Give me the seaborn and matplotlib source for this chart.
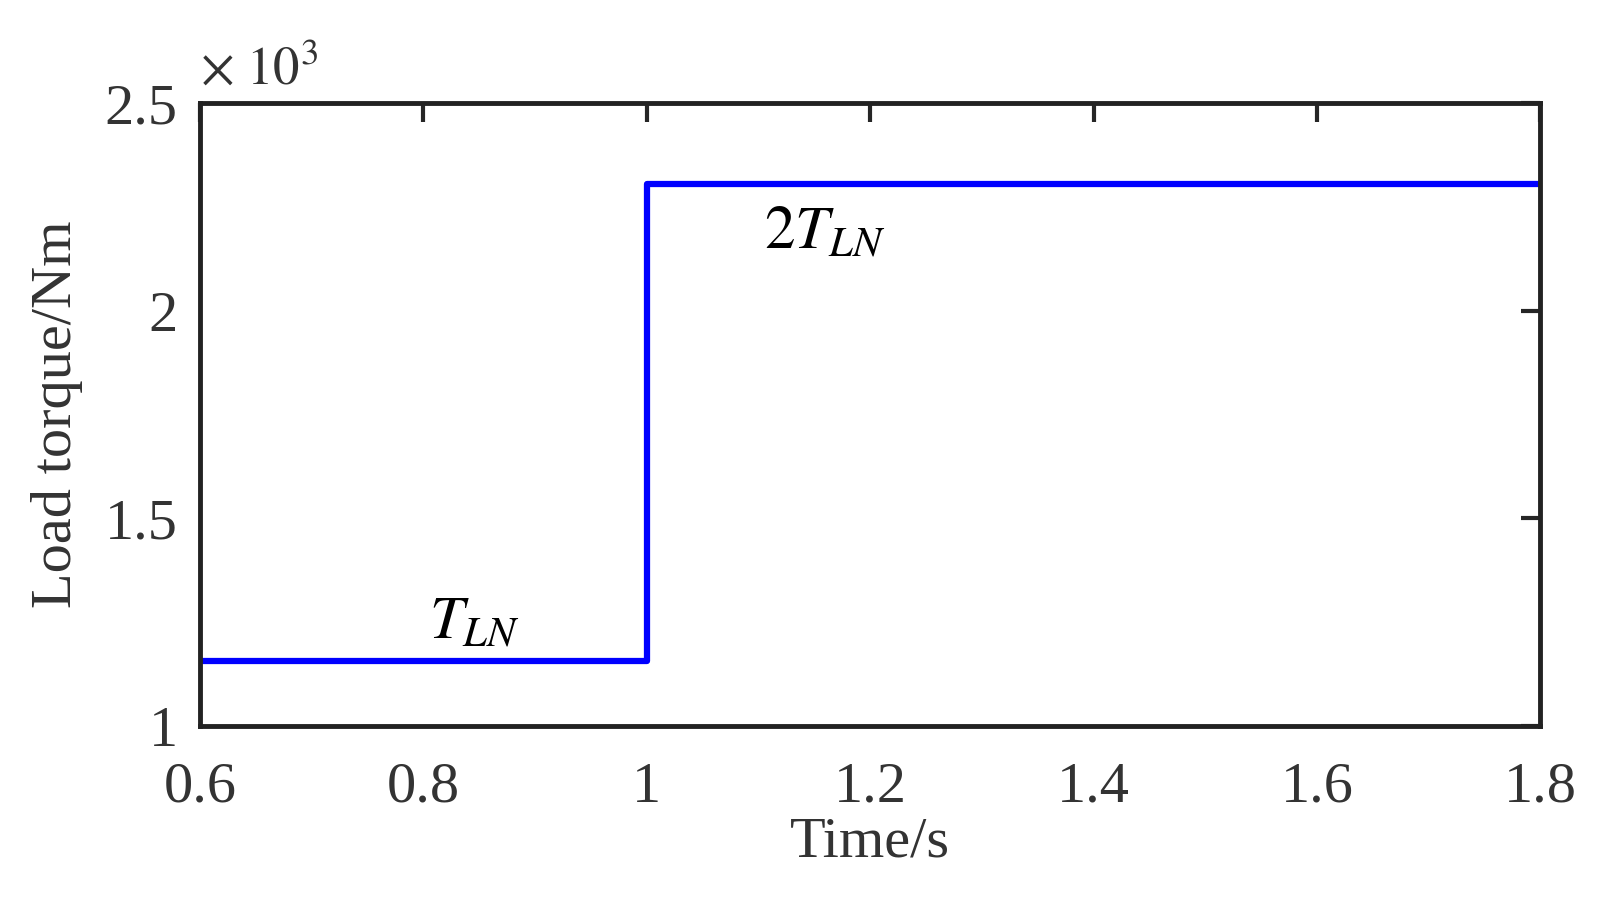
import matplotlib
matplotlib.use('Agg')
import matplotlib.pyplot as plt
import seaborn as sns
import pandas as pd

# load torque step (Nm)
time_s = [0.6, 1.0, 1.0, 1.8]
torque_nm = [1155, 1155, 2305, 2305]

sns.set_style('white')
plt.rcParams['font.family'] = ['Liberation Serif', 'DejaVu Serif']
plt.rcParams['mathtext.fontset'] = 'stix'

df = pd.DataFrame({'t': time_s, 'T': [v / 1000 for v in torque_nm]})

fig = plt.figure(figsize=(16.19, 9.06), dpi=100)
ax = fig.add_axes([0.1235, 0.199, 0.828, 0.687])
sns.lineplot(data=df, x='t', y='T', ax=ax, color='#0000ff', linewidth=4.5, sort=False, estimator=None)

ax.set_xlim(0.6, 1.8)
ax.set_ylim(1, 2.5)
ax.set_xticks([0.6, 0.8, 1.0, 1.2, 1.4, 1.6, 1.8])
ax.set_xticklabels(['0.6', '0.8', '1', '1.2', '1.4', '1.6', '1.8'])
ax.set_yticks([1, 1.5, 2, 2.5])
ax.set_yticklabels(['1', '1.5', '2', '2.5'])
ax.tick_params(direction='in', length=14, width=3, top=True, right=True,
               labelsize=42, labelcolor='#333333')
ax.tick_params(axis='x', pad=26)
ax.tick_params(axis='y', pad=16)
for s in ax.spines.values():
    s.set_linewidth(3.5)
    s.set_color('#222222')
ax.set_xlabel('Time/s', fontsize=42, color='#333333', labelpad=2)
ax.set_ylabel('Load torque/Nm', fontsize=42, color='#333333', labelpad=16)

ax.text(0.6, 2.52, r'$\times\ 10^3$', fontsize=38, color='#333333', va='bottom', ha='left')
ax.text(0.805, 1.21, r'$T_{LN}$', fontsize=44, color='black')
ax.text(1.105, 2.15, r'$2T_{LN}$', fontsize=44, color='black')

fig.savefig('out.png', dpi=100)
